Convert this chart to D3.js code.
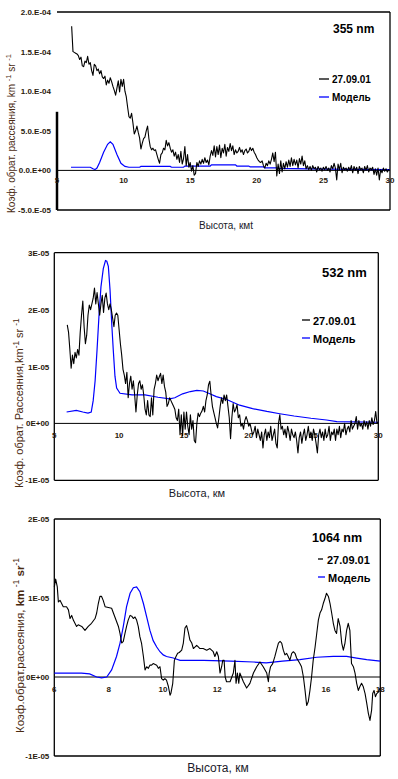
<!DOCTYPE html>
<html><head><meta charset="utf-8">
<script src="https://cdn.jsdelivr.net/npm/d3@7"></script>
<style>
html,body{margin:0;padding:0;background:#fff;}
svg{display:block;font-family:"Liberation Sans",Arial,sans-serif;}
</style></head>
<body>
<svg id="c" width="398" height="779"></svg>
<script>
// ---------- Panel 1: 355 nm (values in units of 1E-05 km-1 sr-1) ----------
const obs355Start = 6.1, obs355Step = 0.1;
const obs355 = [18.2,15.0,14.9,14.8,14.7,14.5,14.0,14.3,13.2,13.1,
13.8,13.6,14.4,13.4,13.6,12.6,12.0,13.4,13.2,12.6,
12.8,12.2,12.6,11.8,11.6,11.9,10.8,11.4,11.0,11.7,
11.2,10.6,10.1,9.5,10.4,11.3,9.9,11.5,10.6,11.5,
10.0,9.3,8.0,6.8,6.6,7.2,6.0,4.6,5.0,5.6,
4.8,4.1,2.7,3.4,4.0,4.2,5.0,5.6,4.0,3.0,
2.6,2.8,2.5,2.6,2.0,1.4,0.9,2.0,2.2,2.8,
2.6,3.8,3.1,3.5,2.8,2.3,2.6,1.8,2.3,1.4,
2.0,1.0,2.4,0.8,1.5,3.0,0.6,2.0,0.4,1.0,
-0.1,0.6,-0.6,-0.4,1.0,0.5,1.2,0.8,1.4,0.9,
1.6,1.0,1.3,0.7,1.8,2.5,1.9,3.1,1.7,3.0,
2.0,3.2,1.6,2.8,2.2,3.3,1.8,2.9,2.4,3.4,
2.5,3.1,2.0,2.6,2.2,2.4,2.9,2.3,2.6,2.0,
2.5,2.7,2.2,2.4,2.9,2.5,2.8,2.3,2.0,1.6,
1.3,1.1,1.0,1.2,0.6,0.3,0.9,0.6,1.2,0.8,
1.4,2.2,1.1,2.3,-0.7,0.8,-0.4,1.2,-0.2,0.9,
0.2,1.1,0.4,1.3,0.5,1.6,0.6,1.4,0.7,1.3,
0.3,1.5,0.8,1.8,0.6,1.2,0.2,0.6,0.1,0.5,
0.0,0.6,0.2,0.4,-0.2,0.5,0.1,0.3,-0.1,0.4,
0.1,0.5,0.0,0.3,-0.2,0.6,0.2,0.9,0.3,-1.2,
0.8,0.1,0.9,-0.3,0.4,0.1,0.3,-0.1,0.4,0.0,
0.6,-0.3,0.5,0.0,0.4,-0.4,0.5,0.1,0.3,-0.3,
0.5,0.0,0.6,-0.2,0.3,0.1,0.4,-0.5,0.2,-0.6,
0.3,-1.2,0.1,-0.3,0.3,-0.1,0.2,-0.2,0.1,0.0];
const model355 = [[6.05,0.4],[7.5,0.4],[7.7,0.2],[7.85,0.1],[8.0,0.3],[8.2,1.0],[8.5,2.3],[8.8,3.3],[9.0,3.62],[9.2,3.3],[9.5,2.0],[9.8,0.9],[10.1,0.5],[10.4,0.4],[11.2,0.4],[11.3,0.5],[13.5,0.5],[13.6,0.4],[14.5,0.4],[14.6,0.55],[16.5,0.55],[16.6,0.7],[18.4,0.7],[18.5,0.55],[19.4,0.55],[19.5,0.44],[20.5,0.44],[20.6,0.32],[21.5,0.32],[21.6,0.25],[24,0.18],[27,0.13],[30,0.1]];
const yTicks355 = [-5,0,5,10,15,20];
const yLabels355 = ["-5.0.E-05","0.0.E+00","5.0.E-05","1.0.E-04","1.5.E-04","2.0.E-04"];
const xTicks355 = [5,10,15,20,25,30];

// ---------- Panel 2: 532 nm ----------
const obs532Start = 6.0, obs532Step = 0.1;
const obs532 = [1.73,1.6,1.3,0.97,1.2,1.05,1.25,1.15,1.3,1.2,
1.6,1.9,2.15,1.7,1.4,1.55,1.9,2.08,2.0,2.1,
2.2,2.38,2.1,2.3,2.1,1.9,2.1,2.25,1.95,2.2,
2.29,2.1,2.0,2.1,2.0,1.85,1.7,1.9,1.94,1.9,
1.65,1.4,1.2,0.95,0.85,0.7,0.9,0.45,0.7,0.83,
0.6,0.75,0.5,0.2,0.5,0.7,0.75,0.6,0.68,0.5,
0.25,0.15,0.4,0.15,0.12,0.45,0.15,0.6,0.7,0.85,
0.75,0.82,0.88,0.7,0.85,0.65,0.55,0.3,0.35,0.45,
0.4,0.35,0.3,0.25,0.1,0.05,0.25,-0.2,0.15,-0.22,
0.2,-0.1,0.2,-0.05,-0.2,0.15,-0.1,0.05,-0.3,-0.34,
0.0,0.18,0.12,0.18,0.22,0.3,0.2,0.4,0.5,0.68,
0.74,0.5,0.3,0.2,0.1,0.0,-0.08,0.1,0.3,0.45,
0.35,0.5,0.4,0.5,0.3,0.1,-0.27,0.1,0.35,0.2,
0.25,0.33,0.1,0.15,-0.05,0.0,-0.1,0.05,0.12,0.05,
-0.05,0.0,-0.1,-0.2,-0.15,-0.05,-0.25,-0.1,-0.2,-0.3,
-0.15,-0.43,-0.2,-0.1,-0.3,-0.15,-0.25,-0.05,-0.3,-0.2,
-0.1,-0.35,-0.43,0.0,0.15,-0.1,-0.05,-0.2,-0.1,-0.25,
-0.05,-0.15,-0.3,-0.1,-0.2,-0.25,-0.15,-0.3,-0.52,-0.25,
-0.15,-0.35,-0.2,-0.1,-0.3,-0.2,-0.05,-0.25,-0.15,-0.3,
-0.1,-0.2,-0.35,-0.52,-0.2,-0.1,-0.25,-0.15,-0.3,-0.1,
-0.25,-0.2,-0.05,-0.3,-0.15,-0.2,-0.1,-0.3,-0.1,-0.2,
-0.05,-0.25,-0.1,-0.15,0.0,-0.2,-0.1,-0.05,-0.15,0.05,
-0.1,-0.05,0.0,0.12,-0.1,0.05,-0.05,0.0,-0.1,0.05,
-0.05,0.03,-0.1,0.05,-0.05,0.1,-0.02,0.05,0.21,0.0,0.02];
const model532 = [[5.95,0.2],[6.7,0.23],[7.2,0.2],[7.6,0.18],[7.85,0.2],[8.0,0.4],[8.15,0.75],[8.3,1.3],[8.45,1.9],[8.6,2.4],[8.78,2.72],[8.95,2.86],[9.05,2.85],[9.17,2.76],[9.3,2.35],[9.43,1.76],[9.55,1.29],[9.68,0.83],[9.81,0.62],[10.07,0.53],[11,0.5],[12,0.5],[13,0.46],[13.9,0.43],[14.3,0.45],[14.9,0.52],[15.5,0.56],[16.0,0.58],[16.5,0.57],[17.0,0.52],[17.5,0.47],[18.3,0.42],[19.3,0.32],[20.3,0.26],[21.4,0.21],[22.4,0.17],[23.5,0.13],[24.8,0.09],[26,0.06],[26.8,0.03],[30,0.02]];
const yTicks532 = [-1,0,1,2,3];
const yLabels532 = ["-1E-05","0E+00","1E-05","2E-05","3E-05"];
const xTicks532 = [5,10,15,20,25,30];

// ---------- Panel 3: 1064 nm ----------
const alt1064 = [6.00,6.05,6.11,6.15,6.21,6.27,6.33,6.45,6.52,6.58,6.64,6.70,6.76,6.82,6.88,7.01,7.13,7.25,7.37,7.50,7.56,7.62,7.68,7.74,7.80,7.87,7.99,8.11,8.23,8.36,8.42,8.48,8.54,8.60,8.66,8.72,8.79,8.85,8.91,8.97,9.03,9.09,9.15,9.21,9.28,9.34,9.40,9.46,9.52,9.58,9.64,9.77,9.83,9.89,9.95,10.01,10.07,10.13,10.20,10.26,10.29,10.36,10.42,10.48,10.54,10.60,10.69,10.75,10.81,10.87,10.93,10.99,11.06,11.12,11.24,11.30,11.36,11.48,11.61,11.73,11.85,11.91,11.98,12.04,12.10,12.16,12.20,12.25,12.29,12.34,12.47,12.59,12.65,12.69,12.74,12.79,12.83,12.96,13.08,13.20,13.33,13.45,13.57,13.69,13.82,13.88,13.91,13.96,14.04,14.12,14.18,14.25,14.31,14.37,14.43,14.49,14.55,14.61,14.67,14.74,14.80,14.86,14.92,15.04,15.10,15.17,15.23,15.29,15.35,15.41,15.47,15.53,15.60,15.66,15.72,15.78,15.84,15.90,15.96,16.02,16.09,16.15,16.21,16.27,16.33,16.39,16.45,16.52,16.58,16.64,16.70,16.76,16.82,16.88,16.94,17.01,17.07,17.13,17.19,17.25,17.31,17.37,17.44,17.50,17.56,17.62,17.68,17.72,17.77,17.82,17.87,17.93,17.99];
const obs1064 = [1.14,1.24,1.14,0.95,0.97,0.93,0.89,0.89,0.85,0.74,0.78,0.72,0.68,0.64,0.66,0.64,0.59,0.64,0.68,0.74,0.81,0.93,1.02,1.02,0.97,0.89,0.88,0.87,0.76,0.64,0.55,0.43,0.45,0.55,0.64,0.72,0.78,0.77,0.74,0.76,0.72,0.64,0.51,0.43,0.26,0.09,0.13,0.11,0.15,0.15,0.17,0.15,0.11,0.13,-0.02,-0.04,-0.02,-0.04,-0.12,-0.23,-0.21,-0.08,0.21,0.26,0.30,0.31,0.34,0.43,0.62,0.65,0.57,0.47,0.43,0.36,0.40,0.38,0.36,0.36,0.34,0.36,0.32,0.26,0.32,0.26,0.05,0.13,0.21,0.21,0.0,-0.06,-0.06,0.05,0.21,-0.08,0.05,-0.08,0.05,-0.06,-0.14,-0.08,0.05,0.13,0.19,0.13,0.05,-0.06,0.05,0.13,0.17,0.26,0.34,0.43,0.45,0.43,0.34,0.28,0.30,0.26,0.21,0.30,0.32,0.30,0.24,0.17,0.13,0.0,-0.17,-0.36,-0.31,-0.17,0.0,0.21,0.38,0.55,0.72,0.81,0.85,0.93,0.99,1.06,1.02,0.93,0.81,0.68,0.59,0.55,0.74,0.64,0.43,0.34,0.43,0.59,0.68,0.59,0.17,0.13,0.05,-0.08,-0.17,-0.12,-0.08,-0.12,-0.21,-0.33,-0.46,-0.55,-0.42,-0.21,-0.17,-0.25,-0.21,-0.19,-0.14];
const model1064 = [[6.0,0.05],[7.0,0.05],[7.3,0.04],[7.56,0.0],[7.74,-0.01],[7.93,0.0],[8.11,0.09],[8.29,0.26],[8.42,0.43],[8.54,0.64],[8.66,0.89],[8.79,1.06],[8.91,1.13],[9.03,1.14],[9.15,1.08],[9.28,0.93],[9.4,0.76],[9.52,0.59],[9.64,0.46],[9.77,0.38],[9.89,0.32],[10.01,0.28],[10.13,0.26],[10.38,0.24],[10.63,0.21],[11.5,0.21],[12.5,0.2],[13.33,0.19],[13.8,0.18],[14.4,0.2],[15.04,0.22],[15.66,0.25],[16.27,0.26],[16.76,0.26],[17.13,0.24],[17.5,0.22],[18.0,0.2]];
const yTicks1064 = [-1,0,1,2];
const yLabels1064 = ["-1E-05","0E+00","1E-05","2E-05"];
const xTicks1064 = [6,8,10,12,14,16,18];

const legendNames = ["27.09.01","Модель"];
const obsColor = "#000", modelColor = "#0000ff", labelColor = "#2a1a0c", titleColor = "#4a2a10";

const svg = d3.select("#c");

function panel(cfg){
  const x = d3.scaleLinear().domain(cfg.xDomain).range([cfg.l, cfg.r]);
  const y = d3.scaleLinear().domain(cfg.yDomain).range([cfg.b, cfg.t]);
  const g = svg.append("g");
  // frame
  const fr = g.append("g").attr("stroke","#000").attr("stroke-width",1.3).attr("fill","none");
  fr.append("line").attr("x1",cfg.l).attr("x2",cfg.r).attr("y1",cfg.t).attr("y2",cfg.t);
  fr.append("line").attr("x1",cfg.r).attr("x2",cfg.r).attr("y1",cfg.t).attr("y2",cfg.b);
  fr.append("line").attr("x1",cfg.l).attr("x2",cfg.r).attr("y1",cfg.b).attr("y2",cfg.b);
  fr.append("line").attr("x1",cfg.l).attr("x2",cfg.l).attr("y1",cfg.leftFrom!=null? y(cfg.leftFrom):cfg.t).attr("y2",cfg.b)
    .attr("stroke-width",cfg.leftW||1.3);
  // zero line
  g.append("line").attr("x1",cfg.l).attr("x2",cfg.r).attr("y1",y(0)).attr("y2",y(0)).attr("stroke","#000").attr("stroke-width",1);
  // y tick labels
  g.append("g").selectAll("text").data(cfg.yTicks).join("text")
    .attr("x",cfg.l-cfg.yLabOff).attr("y",d=>y(d)+3).attr("text-anchor","end")
    .attr("font-size",cfg.tickFs).attr("font-weight","bold").attr("fill",labelColor)
    .text((d,i)=>cfg.yLabels[i]);
  // x tick labels
  g.append("g").selectAll("text").data(cfg.xTicks).join("text")
    .attr("x",d=>x(d)).attr("y",y(0)+cfg.xLabOff).attr("text-anchor","middle")
    .attr("font-size",cfg.tickFs).attr("font-weight","bold").attr("fill",labelColor)
    .text(d=>d);
  // lines
  const line = d3.line().x(d=>x(d[0])).y(d=>y(d[1]));
  g.append("path").datum(cfg.model).attr("d",line).attr("fill","none").attr("stroke",modelColor).attr("stroke-width",1.2);
  g.append("path").datum(cfg.obs).attr("d",line).attr("fill","none").attr("stroke",obsColor).attr("stroke-width",1.1).attr("stroke-linejoin","round");
  // title
  g.append("text").attr("x",cfg.titleX).attr("y",cfg.titleY).attr("font-size",cfg.titleFs).attr("font-weight","bold").attr("fill","#000").text(cfg.title);
  // legend
  cfg.leg.forEach((L,i)=>{
    g.append("line").attr("x1",L.x1).attr("x2",L.x2).attr("y1",L.ly).attr("y2",L.ly).attr("stroke",i===0?obsColor:modelColor).attr("stroke-width",1.3);
    g.append("text").attr("x",L.tx).attr("y",L.ty).attr("font-size",cfg.legFs).attr("font-weight","bold").attr("fill","#000").text(legendNames[i]);
  });
  // x title
  g.append("text").attr("x",cfg.xtX).attr("y",cfg.xtY).attr("text-anchor","middle").attr("font-size",cfg.xtFs).attr("fill","#1a1a2a").text(cfg.xTitle);
  // y title
  const yt = g.append("text").attr("transform",`translate(${cfg.ytX},${cfg.ytY}) rotate(-90)`)
    .attr("font-size",cfg.ytFs).attr("fill",titleColor);
  cfg.yTitle.forEach(p=>{
    const ts = yt.append("tspan").text(p.t);
    if(p.sup) ts.attr("baseline-shift","super").attr("font-size",cfg.ytFs*0.75);
    if(p.b) ts.attr("font-weight","bold");
  });
}

const seq = (start, step, vals) => vals.map((v,i)=>[start+i*step, v]);

panel({
  l:57,r:390,t:12,b:210, xDomain:[5,30], yDomain:[-5,20], leftFrom:7.4, leftW:2.5,
  yTicks:yTicks355, yLabels:yLabels355, xTicks:xTicks355, yLabOff:6, xLabOff:13, tickFs:8,
  obs:seq(obs355Start,obs355Step,obs355), model:model355,
  title:"355 nm", titleX:333, titleY:33, titleFs:12,
  leg:[{x1:319,x2:329,ly:79,tx:332,ty:83},{x1:319,x2:329,ly:97,tx:332,ty:101}], legFs:10,
  xTitle:"Высота, кмt", xtX:226, xtY:229, xtFs:10,
  yTitle:[{t:"Коэф. обрат. рассеяния, km "},{t:"-1",sup:1},{t:" sr "},{t:"-1",sup:1}], ytX:15, ytY:213, ytFs:10
});

panel({
  l:54.3,r:378.3,t:252.7,b:480.3, xDomain:[5,30], yDomain:[-1,3],
  yTicks:yTicks532, yLabels:yLabels532, xTicks:xTicks532, yLabOff:5, xLabOff:15, tickFs:8,
  obs:seq(obs532Start,obs532Step,obs532), model:model532,
  title:"532 nm", titleX:322, titleY:277, titleFs:13,
  leg:[{x1:302,x2:310,ly:320,tx:313,ty:325},{x1:302,x2:310,ly:338,tx:313,ty:343}], legFs:11,
  xTitle:"Высота, км", xtX:197, xtY:497, xtFs:11,
  yTitle:[{t:"Коэф. обрат. Рассеяния,km"},{t:"-1",sup:1},{t:" sr "},{t:"-1",sup:1}], ytX:23, ytY:488, ytFs:11
});

panel({
  l:54.3,r:380.3,t:519,b:756, xDomain:[6,18], yDomain:[-1,2],
  yTicks:yTicks1064, yLabels:yLabels1064, xTicks:xTicks1064, yLabOff:5, xLabOff:15, tickFs:8,
  obs:alt1064.map((a,i)=>[a,obs1064[i]]), model:model1064,
  title:"1064 nm", titleX:312, titleY:542, titleFs:12.5,
  leg:[{x1:318,x2:323,ly:559,tx:327,ty:564},{x1:318,x2:325,ly:577,tx:328,ty:582}], legFs:11,
  xTitle:"Высота, км", xtX:218, xtY:772, xtFs:12,
  yTitle:[{t:"Коэф.обрат.рассеяния, "},{t:"km",b:1},{t:" -1",sup:1},{t:" "},{t:"sr",b:1},{t:"-1",sup:1}], ytX:24, ytY:733, ytFs:11.5
});
</script>
</body></html>
